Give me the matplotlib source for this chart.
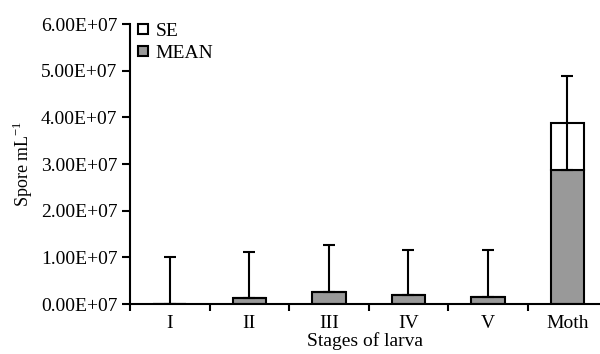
import numpy as np
import matplotlib
matplotlib.use("Agg")
import matplotlib.pyplot as plt
from matplotlib.lines import Line2D

# data
stages = ["I", "II", "III", "IV", "V", "Moth"]
mean = [0.0, 1.3e6, 2.5e6, 1.9e6, 1.5e6, 2.88e7]
se = [0.0, 0.0, 0.0, 0.0, 0.0, 1.0e7]
err = [1.0e7, 9.9e6, 1.01e7, 9.7e6, 1.01e7, 1.0e7]  # whisker above the SE box

plt.rcParams['font.family'] = ['Liberation Serif', 'DejaVu Serif']
plt.rcParams['mathtext.fontset'] = 'custom'
plt.rcParams['mathtext.rm'] = 'Liberation Serif'
plt.rcParams['font.size'] = 14

fig = plt.figure(figsize=(6, 3.54), dpi=100)
ax = fig.add_axes([0.2167, 0.1412, 0.7833, 0.791])

x = np.arange(len(stages))
mean = np.array(mean)
se = np.array(se)
err = np.array(err)

ax.bar(x, mean, width=0.42, color='#999999', edgecolor='black', linewidth=1.5, zorder=2)
ax.bar(x, se, width=0.42, bottom=mean, color='white', edgecolor='black', linewidth=1.5, zorder=2)
ax.errorbar(x, mean, yerr=[np.zeros_like(mean), se + err], fmt='none', ecolor='black',
            elinewidth=1.5, capsize=4.5, capthick=1.5, zorder=3)

ax.set_xlim(-0.5, 5.41)
ax.set_ylim(0, 6e7)
ax.set_yticks(np.arange(0, 6.01e7, 1e7))
ax.set_yticklabels(["%.2fE+07" % (v / 1e7) for v in np.arange(0, 6.01e7, 1e7)])
ax.set_xticks(x)
ax.set_xticklabels(stages)
ax.set_xticks(np.arange(-0.5, 5.0, 1.0), minor=True)
ax.tick_params(axis='x', which='major', length=0, pad=8)
ax.tick_params(axis='x', which='minor', length=5, width=1.5, direction='out')
ax.tick_params(axis='y', length=6, width=1.5, direction='out', pad=3)

for s in ['top', 'right']:
    ax.spines[s].set_visible(False)
for s in ['left', 'bottom']:
    ax.spines[s].set_linewidth(1.5)

ax.set_ylabel("Spore mL$^{-1}$", fontsize=13)
ax.yaxis.set_label_coords(-0.202, 0.5)
ax.set_xlabel("Stages of larva", labelpad=0)

handles = [
    Line2D([], [], marker='s', linestyle='none', markersize=7, markerfacecolor='white',
           markeredgecolor='black', markeredgewidth=1.5),
    Line2D([], [], marker='s', linestyle='none', markersize=7, markerfacecolor='#999999',
           markeredgecolor='black', markeredgewidth=1.5),
]
ax.legend(handles, ["SE", "MEAN"], loc='upper left', bbox_to_anchor=(-0.016, 1.055), frameon=False,
          handlelength=0.7, handletextpad=0.3, labelspacing=0.25, borderaxespad=0.3)

fig.savefig("out.png", dpi=100)
